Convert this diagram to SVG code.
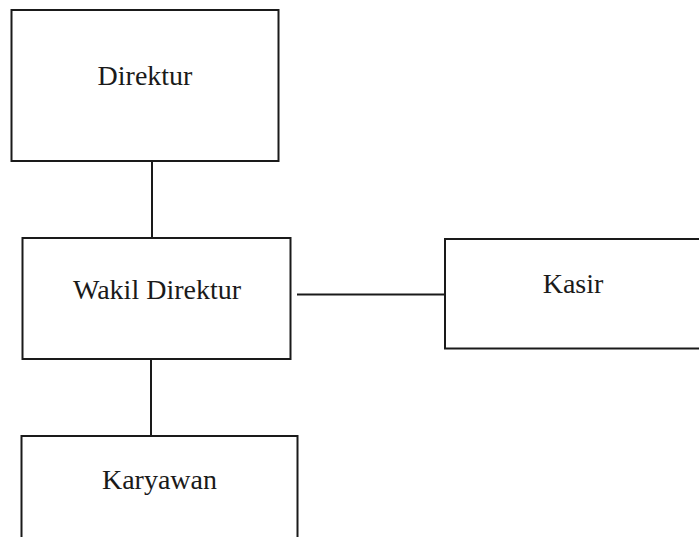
<svg xmlns="http://www.w3.org/2000/svg" width="699" height="537" viewBox="0 0 699 537">
<style>
.box{fill:#fff;stroke:#1a1a1a;stroke-width:2}
.lbl{font-family:"Liberation Serif","Times New Roman",serif;font-size:28px;fill:#1a1a1a;text-anchor:middle}
.con{stroke:#1a1a1a;stroke-width:2;fill:none}
</style>
<rect width="699" height="537" fill="#fff"/>
<g id="connectors">
<line class="con" x1="152" y1="161" x2="152" y2="238"/>
<line class="con" x1="151" y1="359" x2="151" y2="436"/>
<line class="con" x1="297" y1="294.5" x2="445" y2="294.5"/>
</g>
<g id="direktur">
<rect class="box" x="11.5" y="10" width="267" height="151"/>
<text class="lbl" x="145" y="85">Direktur</text>
</g>
<g id="wakil">
<rect class="box" x="22.5" y="238" width="268" height="121"/>
<text class="lbl" x="157" y="299">Wakil Direktur</text>
</g>
<g id="kasir">
<rect class="box" x="445" y="239" width="260" height="109.5"/>
<text class="lbl" x="573" y="293">Kasir</text>
</g>
<g id="karyawan">
<rect class="box" x="21.5" y="436" width="276" height="120"/>
<text class="lbl" x="159.5" y="489">Karyawan</text>
</g>
</svg>
